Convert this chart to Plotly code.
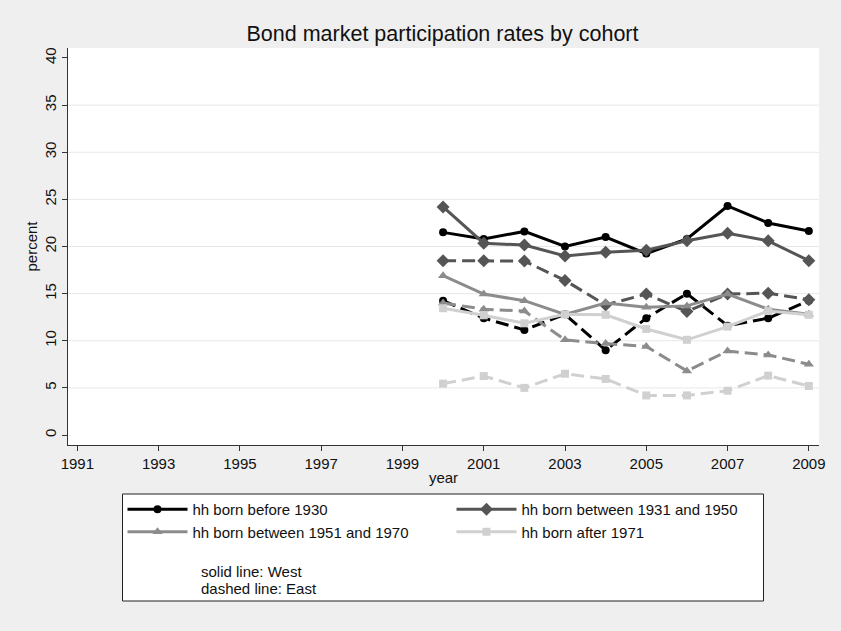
import plotly.graph_objects as go

# Survey years
years = [2000, 2001, 2002, 2003, 2004, 2005, 2006, 2007, 2008, 2009]

# Bond market participation (percent), West Germany by birth cohort
west_pre1930 = [21.5, 20.8, 21.6, 20.0, 21.0, 19.25, 20.8, 24.3, 22.5, 21.65]
west_1931_1950 = [24.2, 20.35, 20.15, 19.0, 19.4, 19.6, 20.6, 21.4, 20.6, 18.5]
west_1951_1970 = [16.9, 14.95, 14.25, 12.8, 14.0, 13.55, 13.7, 14.95, 13.35, 12.8]
west_after1971 = [13.45, 12.7, 11.85, 12.8, 12.75, 11.25, 10.1, 11.5, 13.15, 12.75]

# Bond market participation (percent), East Germany by birth cohort
east_pre1930 = [14.25, 12.4, 11.15, 12.8, 9.0, 12.4, 15.0, 11.6, 12.4, 14.25]
east_1931_1950 = [18.5, 18.5, 18.45, 16.4, 13.8, 14.95, 13.1, 14.95, 15.05, 14.35]
east_1951_1970 = [14.0, 13.35, 13.15, 10.1, 9.7, 9.4, 6.8, 8.9, 8.5, 7.5]
east_after1971 = [5.45, 6.25, 5.0, 6.5, 5.95, 4.2, 4.2, 4.7, 6.3, 5.2]

cohort_names = [
    "hh born before 1930",
    "hh born between 1931 and 1950",
    "hh born between 1951 and 1970",
    "hh born after 1971",
]
cohort_colors = ["#000000", "#555555", "#8c8c8c", "#d0d0d0"]
cohort_symbols = ["circle", "diamond", "triangle-up", "square"]
cohort_sizes = [8, 10, 9, 8]

west = [west_pre1930, west_1931_1950, west_1951_1970, west_after1971]
east = [east_pre1930, east_1931_1950, east_1951_1970, east_after1971]

note_lines = ["solid line: West", "dashed line: East"]

x_ticks = list(range(1991, 2010, 2))
y_ticks = list(range(0, 41, 5))
y_grid = y_ticks[1:-1]

FONT = "Liberation Sans, Arial, Helvetica, sans-serif"

# Plot-area geometry in pixels (used to place legend and notes)
W, H = 841, 631
L, R, T, B = 68, 819, 48, 445


def px_x(px):
    return (px - L) / (R - L)


def px_y(py):
    return (B - py) / (B - T)


fig = go.Figure()

for i in range(4):
    fig.add_trace(go.Scatter(
        x=years, y=west[i], mode="lines+markers", name=cohort_names[i],
        line=dict(color=cohort_colors[i], width=3),
        marker=dict(symbol=cohort_symbols[i], size=cohort_sizes[i], color=cohort_colors[i]),
        showlegend=True, legendrank=i + 1,
    ))
    fig.add_trace(go.Scatter(
        x=years, y=east[i], mode="lines+markers", name=cohort_names[i] + " (East)",
        line=dict(color=cohort_colors[i], width=3, dash="13px,6px"),
        marker=dict(symbol=cohort_symbols[i], size=cohort_sizes[i], color=cohort_colors[i]),
        showlegend=False,
    ))

shapes = []
for g in y_grid:
    shapes.append(dict(type="line", xref="paper", x0=0, x1=1, yref="y", y0=g, y1=g,
                       line=dict(color="#e8e8e8", width=1), layer="below"))
# legend frame
shapes.append(dict(type="rect", xref="paper", yref="paper",
                   x0=px_x(122.5), x1=px_x(763.5), y0=px_y(601), y1=px_y(494),
                   fillcolor="white", line=dict(color="#222222", width=1)))

annotations = []
for k, txt in enumerate(note_lines):
    annotations.append(dict(text=txt, xref="paper", yref="paper",
                            x=px_x(199), y=px_y(571.5 + 17 * k), xanchor="left", yanchor="middle",
                            align="left", showarrow=False, font=dict(size=15)))

fig.update_layout(
    width=W, height=H,
    margin=dict(l=L, r=W - R, t=T, b=H - B),
    paper_bgcolor="#efefef",
    plot_bgcolor="white",
    font=dict(family=FONT, size=15, color="#111111"),
    title=dict(text="Bond market participation rates by cohort",
               x=442.5 / W, xanchor="center", xref="container",
               y=1 - 33 / H, yanchor="middle", yref="container",
               font=dict(size=21.5, color="#111111")),
    xaxis=dict(range=[1990.77, 2009.25], tickvals=x_ticks, ticks="outside", ticklen=5,
               tickcolor="#333333", showline=True, linecolor="#333333", linewidth=1,
               showgrid=False, zeroline=False,
               title=dict(text="year", standoff=1, font=dict(size=15))),
    yaxis=dict(range=[-1.06, 41.06], tickvals=y_ticks, ticks="outside", ticklen=5,
               tickcolor="#333333", showline=True, linecolor="#333333", linewidth=1,
               showgrid=False, zeroline=False, tickangle=-90,
               title=dict(text="percent", standoff=0, font=dict(size=15))),
    legend=dict(orientation="h", x=px_x(122.5), xanchor="left",
                y=px_y(493), yanchor="top", bgcolor="rgba(0,0,0,0)",
                entrywidth=254, entrywidthmode="pixels", itemwidth=60,
                font=dict(size=15), traceorder="normal"),
    shapes=shapes,
    annotations=annotations,
)

fig.write_html("out.html")
